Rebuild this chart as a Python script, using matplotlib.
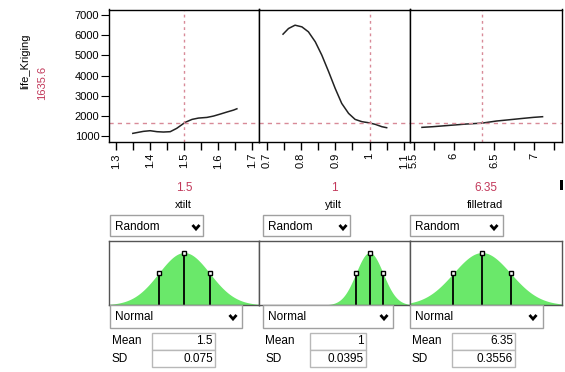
import numpy as np
import matplotlib
matplotlib.use('Agg')
import matplotlib.pyplot as plt
from matplotlib.patches import Rectangle
from matplotlib.lines import Line2D
from matplotlib.ticker import MultipleLocator, FuncFormatter

plt.rcParams['font.family'] = ['Liberation Sans', 'DejaVu Sans']

W, H = 565, 372

# profile traces
xtilt_x = [1.349, 1.380, 1.400, 1.420, 1.439, 1.459, 1.478, 1.493, 1.503, 1.523,
           1.542, 1.567, 1.586, 1.606, 1.625, 1.645, 1.655]
xtilt_y = [1132, 1231, 1264, 1215, 1198, 1215, 1380, 1560, 1680, 1825,
           1891, 1924, 1990, 2089, 2188, 2287, 2353]
ytilt_x = [0.748, 0.764, 0.783, 0.803, 0.822, 0.842, 0.861, 0.881, 0.900, 0.919,
           0.939, 0.958, 0.978, 0.997, 1.017, 1.036, 1.050]
ytilt_y = [6058, 6339, 6504, 6421, 6174, 5678, 5017, 4190, 3364, 2620,
           2124, 1826, 1711, 1661, 1579, 1463, 1413]
fillet_x = [5.604, 5.74, 5.946, 6.154, 6.35, 6.53, 6.696, 6.86, 6.99, 7.104]
fillet_y = [1430, 1463, 1529, 1595, 1640, 1744, 1810, 1876, 1926, 1959]

factors = ['xtilt', 'ytilt', 'filletrad']
means = [1.5, 1.0, 6.35]
sds = [0.075, 0.0395, 0.3556]
mean_labels = ['1.5', '1', '6.35']
sd_labels = ['0.075', '0.0395', '0.3556']
response = 'life_Kriging'
response_val = 1635.6
yticks = [1000, 2000, 3000, 4000, 5000, 6000, 7000]

traces = [(xtilt_x, xtilt_y), (ytilt_x, ytilt_y), (fillet_x, fillet_y)]
xlims = [(1.279, 1.72), (0.678, 1.118), (5.455, 7.346)]
xmajor = [0.1, 0.1, 0.5]
xminor = [0.05, 0.05, 0.25]
edges = [(109, 259), (259, 410), (410, 562)]

RED = '#c2385a'
REF = '#d88a98'
GREEN = '#6ae86a'


def rect(l, t, r, b):
    return [l / W, 1 - b / H, (r - l) / W, (b - t) / H]


def fpos(x, y):
    return x / W, 1 - y / H


fig = plt.figure(figsize=(W / 100, H / 100), dpi=100)


def box(l, t, r, b, ec='#a0a0a0'):
    fig.add_artist(Rectangle((l / W, 1 - b / H), (r - l) / W, (b - t) / H,
                             transform=fig.transFigure, fc='white', ec=ec, lw=1))


def chevron(cx, cy):
    xs = [cx - 3.5, cx, cx + 3.5]
    ys = [cy - 2, cy + 2, cy - 2]
    fig.add_artist(Line2D([x / W for x in xs], [1 - y / H for y in ys],
                          transform=fig.transFigure, color='black', lw=2,
                          solid_capstyle='butt', solid_joinstyle='miter'))


fmt = FuncFormatter(lambda v, p: '%g' % round(v, 4))

for i, (l, r) in enumerate(edges):
    ax = fig.add_axes(rect(l, 9.5, r, 142))
    ax.plot(traces[i][0], traces[i][1], color='#222222', lw=1.1)
    ax.axhline(response_val, color=REF, lw=1, ls=(0, (3, 3)))
    ax.axvline(means[i], color=REF, lw=1, ls=(0, (2, 2.5)))
    ax.set_xlim(xlims[i])
    ax.set_ylim(703, 7283)
    ax.xaxis.set_major_locator(MultipleLocator(xmajor[i]))
    ax.xaxis.set_minor_locator(MultipleLocator(xminor[i]))
    ax.xaxis.set_major_formatter(fmt)
    ax.tick_params(axis='x', which='both', direction='out', length=6, width=1,
                   labelsize=8, labelrotation=90, pad=2)
    for s in ax.spines.values():
        s.set_linewidth(1)
    if i == 0:
        ax.set_yticks(yticks)
        ax.tick_params(axis='y', direction='out', length=6, labelsize=8, pad=1)
    else:
        ax.set_yticks([])
    cx = (l + r) / 2
    fig.text(*fpos(cx, 188), mean_labels[i], color=RED, fontsize=8.5,
             ha='center', va='center')
    fig.text(*fpos(cx - 1, 205), factors[i], fontsize=8, ha='center', va='center')

    # distribution panel
    dax = fig.add_axes(rect(l, 241, r, 305))
    xs = np.linspace(xlims[i][0], xlims[i][1], 300)
    pdf = np.exp(-0.5 * ((xs - means[i]) / sds[i]) ** 2)
    dax.fill_between(xs, 0, pdf, color=GREEN, lw=0)
    for k in (-1, 0, 1):
        xv = means[i] + k * sds[i]
        hv = np.exp(-0.5 * k * k)
        dax.plot([xv, xv], [0, hv], color='black', lw=1.3)
        dax.plot([xv], [hv], marker='s', ms=3.5, mfc='white', mec='black', mew=1)
    dax.set_xlim(xlims[i])
    dax.set_ylim(0, 1.22)
    dax.set_xticks([])
    dax.set_yticks([])
    for s in dax.spines.values():
        s.set_color('#555555')
        s.set_linewidth(1)

fig.text(*fpos(25, 61), response, rotation=90, fontsize=8, ha='center', va='center')
fig.text(*fpos(42, 83), '%g' % response_val, rotation=90, color=RED, fontsize=8,
         ha='center', va='center')

# dropdowns and value boxes
random_boxes = [(110, 203, 196), (263, 350, 343), (410, 503, 494)]
normal_boxes = [(110, 242, 233), (263, 393, 384), (410, 543, 533)]
value_boxes = [(152, 215), (310, 366), (452, 515)]
for i in range(3):
    l, r, c = random_boxes[i]
    box(l, 215, r, 236)
    fig.text(*fpos(l + 5, 226.5), 'Random', fontsize=8.5, ha='left', va='center')
    chevron(c, 227)
    l, r, c = normal_boxes[i]
    box(l, 305, r, 328)
    fig.text(*fpos(l + 5, 317), 'Normal', fontsize=8.5, ha='left', va='center')
    chevron(c, 317)
    l, r = value_boxes[i]
    box(l, 333, r, 349.5, ec='#b8b8b8')
    box(l, 349.5, r, 367, ec='#b8b8b8')
    fig.text(*fpos(r - 2, 341.5), mean_labels[i], fontsize=8.5, ha='right', va='center')
    fig.text(*fpos(r - 2, 359), sd_labels[i], fontsize=8.5, ha='right', va='center')
    ml = random_boxes[i][0] + 2
    fig.text(*fpos(ml, 341.5), 'Mean', fontsize=8.5, ha='left', va='center')
    fig.text(*fpos(ml, 359), 'SD', fontsize=8.5, ha='left', va='center')

fig.add_artist(Rectangle((560 / W, 1 - 190 / H), 3 / W, 10 / H,
                         transform=fig.transFigure, fc='black', ec='none'))

fig.savefig('out.png', dpi=100)
